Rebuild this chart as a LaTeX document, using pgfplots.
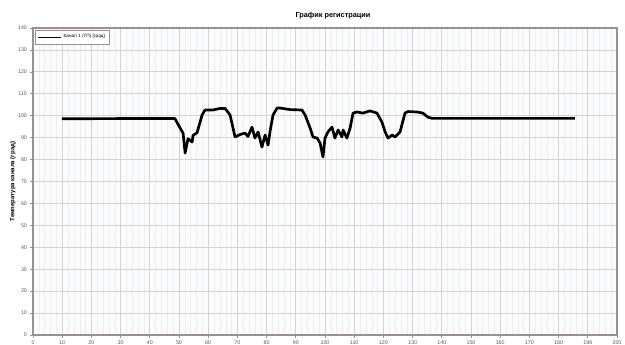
\documentclass[border=0pt]{standalone}
\usepackage{fontspec}
\setmainfont{Liberation Sans}
\usepackage{pgfplots}
\pgfplotsset{compat=1.18}

\definecolor{gridmaj}{HTML}{DCCFCF}
\definecolor{gridmin}{HTML}{F1ECEC}
\definecolor{frame}{HTML}{9A9090}
\definecolor{plotbg}{HTML}{FBFCFD}

\pgfplotstableread{
x y
9.9 98.6
30.0 98.7
48.6 98.7
49.7 96.0
51.4 92.0
52.1 83.0
53.1 89.5
54.5 88.0
54.8 91.0
56.2 92.3
57.9 100.3
58.9 102.6
61.6 102.6
64.0 103.3
65.8 103.3
67.5 100.3
68.5 94.4
69.2 90.3
70.9 91.4
72.6 92.1
73.6 90.5
75.0 94.8
76.0 89.8
77.1 92.6
78.4 85.7
79.5 91.2
80.5 86.6
81.2 93.0
82.2 100.3
83.6 103.5
84.6 103.5
88.0 102.8
92.1 102.6
93.2 100.3
94.9 94.4
95.9 90.3
97.3 89.8
98.3 87.6
99.3 81.2
100.0 89.8
101.0 92.6
102.4 94.8
103.4 89.8
104.5 93.5
105.8 90.3
106.2 93.5
107.5 89.8
108.6 94.4
109.6 101.2
111.0 101.7
113.0 101.2
115.4 102.2
117.8 101.2
119.5 97.1
120.6 92.6
121.6 89.8
123.0 91.2
124.0 90.3
125.7 92.6
127.4 101.2
128.4 101.9
131.5 101.7
133.5 101.2
135.3 99.3
136.7 98.8
160.0 98.8
185.6 98.8
}\signal

\begin{document}
\begin{tikzpicture}[x=1pt,y=1pt]
\begin{axis}[
  name=main,
  scale only axis,
  width=438pt, height=230.25pt,
  xmin=0, xmax=200, ymin=0, ymax=140,
  xtick={0,10,...,200},
  ytick={0,10,...,140},
  minor x tick num=4,
  axis background/.style={fill=plotbg},
  axis line style={frame, line width=1.1pt},
  grid=both,
  major grid style={gridmaj, line width=0.6pt},
  minor grid style={gridmin, line width=0.3pt},
  minor tick length=0pt,
  major tick length=2pt,
  tick align=outside,
  tick style={frame, line width=0.5pt},
  xtick pos=bottom, ytick pos=left,
  /pgf/number format/assume math mode=true,
  ticklabel style={font=\fontsize{4}{4.5}\selectfont, text=black!65},
  xticklabel style={yshift=1pt},
  yticklabel style={xshift=1pt},
  title={\textbf{График регистрации}},
  title style={font=\fontsize{5.5}{6}\selectfont, yshift=-3pt, xshift=6pt},
  ylabel={\textbf{Температура канала (град)}},
  ylabel style={font=\fontsize{4.5}{5}\selectfont, yshift=-5pt},
  legend style={font=\fontsize{3.5}{4}\selectfont, draw=frame, line width=0.6pt,
    fill=white, inner sep=1.5pt, at={(0.004,0.995)}, anchor=north west,
    legend cell align=left},
  legend image post style={line width=0.4pt},
]
\addplot[black, line width=2pt, line join=round] table[x=x, y=y] {\signal};
\addlegendentry{Канал 1 (ТП) [град]}
\end{axis}
\pgfresetboundingbox
\path[use as bounding box] ([shift={(-24.75pt,-6.75pt)}]main.south west)
  rectangle ([shift={(6pt,21pt)}]main.north east);
\end{tikzpicture}
\end{document}
